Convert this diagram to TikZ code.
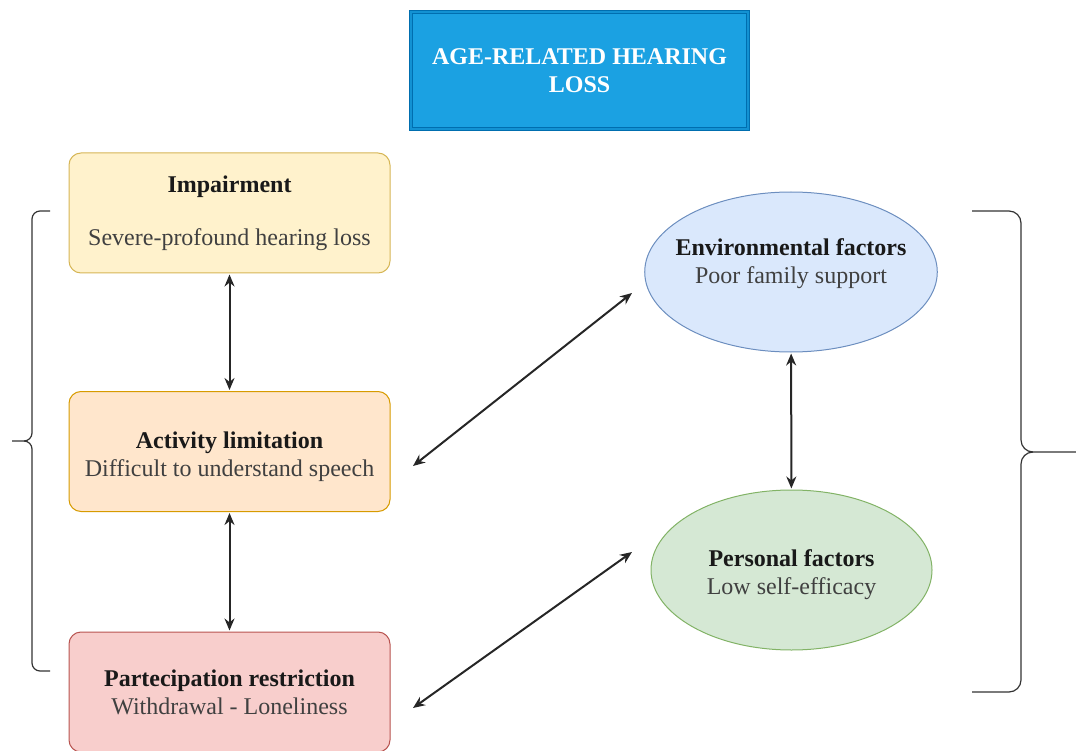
\documentclass[tikz,border=0pt]{standalone}
\usepackage{fontspec}
\setmainfont{Liberation Serif}
\usetikzlibrary{arrows.meta,shapes.geometric}
\definecolor{titlefill}{HTML}{1BA1E2}
\definecolor{titleedge}{HTML}{006EAF}
\definecolor{impfill}{HTML}{FFF2CC}
\definecolor{impedge}{HTML}{D6B656}
\definecolor{actfill}{HTML}{FFE6CC}
\definecolor{actedge}{HTML}{D79B00}
\definecolor{partfill}{HTML}{F8CECC}
\definecolor{partedge}{HTML}{B85450}
\definecolor{envfill}{HTML}{DAE8FC}
\definecolor{envedge}{HTML}{6C8EBF}
\definecolor{persfill}{HTML}{D5E8D4}
\definecolor{persedge}{HTML}{82B366}

\begin{document}
\begin{tikzpicture}[x=1pt,y=1pt,
  every node/.style={align=center,text=black!90,font=\fontsize{24}{28}\selectfont},
  box/.style={rectangle,rounded corners=12pt,minimum width=321pt,minimum height=120pt,line width=1pt},
  oval/.style={ellipse,line width=1pt,minimum height=160pt},
  link/.style={{Stealth[length=12pt,width=10pt]}-{Stealth[length=12pt,width=10pt]},line width=2pt,black!85},
  brace/.style={line width=1.2pt,black!80}]
\useasboundingbox (0,0) rectangle (1076,-751);

\node[draw=titleedge,double=titlefill!70!titleedge,double distance=1.5pt,line width=1.2pt,
      fill=titlefill,minimum width=337pt,minimum height=117pt,text=white,
      font=\fontsize{24}{28}\selectfont\bfseries] (title) at (579.5,-70.5) {AGE-RELATED HEARING\\LOSS};

\node[box,draw=impedge,fill=impfill] (imp) at (229.5,-213) {\textbf{Impairment}\\[25pt]{\color{black!75}Severe-profound hearing loss}};
\node[box,draw=actedge,fill=actfill] (act) at (229.5,-451.5) {\mbox{}\\[-1pt]\textbf{Activity limitation}\\{\color{black!75}Difficult to understand speech}};
\node[box,draw=partedge,fill=partfill] (part) at (229.5,-692) {\textbf{Partecipation restriction}\\{\color{black!75}Withdrawal - Loneliness}};

\node[oval,draw=envedge,fill=envfill,minimum width=292pt,inner xsep=-12pt] (env) at (791,-272)
  {\textbf{Environmental factors}\\{\color{black!75}Poor family support}\\[-6pt]\mbox{}};
\node[oval,draw=persedge,fill=persfill,minimum width=281pt] (pers) at (791.5,-570)
  {\mbox{}\\[-1pt]\textbf{Personal factors}\\{\color{black!75}Low self-efficacy}};

% free ends of the diagonal links
\coordinate (actR) at (413,-466);
\coordinate (envL) at (632,-293);
\coordinate (partR) at (413,-708);
\coordinate (persL) at (632,-552);

\draw[link,shorten <=1pt,shorten >=1pt] (imp) -- (act);
\draw[link,shorten <=1pt,shorten >=1pt] (act) -- (part);
\draw[link,shorten <=1pt,shorten >=1pt] (env) -- (pers);
\draw[link] (actR) -- (envL);
\draw[link] (partR) -- (persL);

% braces
\draw[brace] (50,-211) -- (40,-211) arc[start angle=90,end angle=180,radius=8] -- (32,-433)
  arc[start angle=0,end angle=-90,radius=8] -- (12,-441);
\draw[brace] (24,-441) arc[start angle=90,end angle=0,radius=8] -- (32,-663)
  arc[start angle=180,end angle=270,radius=8] -- (50,-671);
\draw[brace] (972,-211) -- (1009,-211) arc[start angle=90,end angle=0,radius=12] -- (1021,-440)
  arc[start angle=180,end angle=270,radius=12] -- (1076,-452);
\draw[brace] (1033,-452) arc[start angle=90,end angle=180,radius=12] -- (1021,-680)
  arc[start angle=0,end angle=-90,radius=12] -- (972,-692);
\end{tikzpicture}
\end{document}
